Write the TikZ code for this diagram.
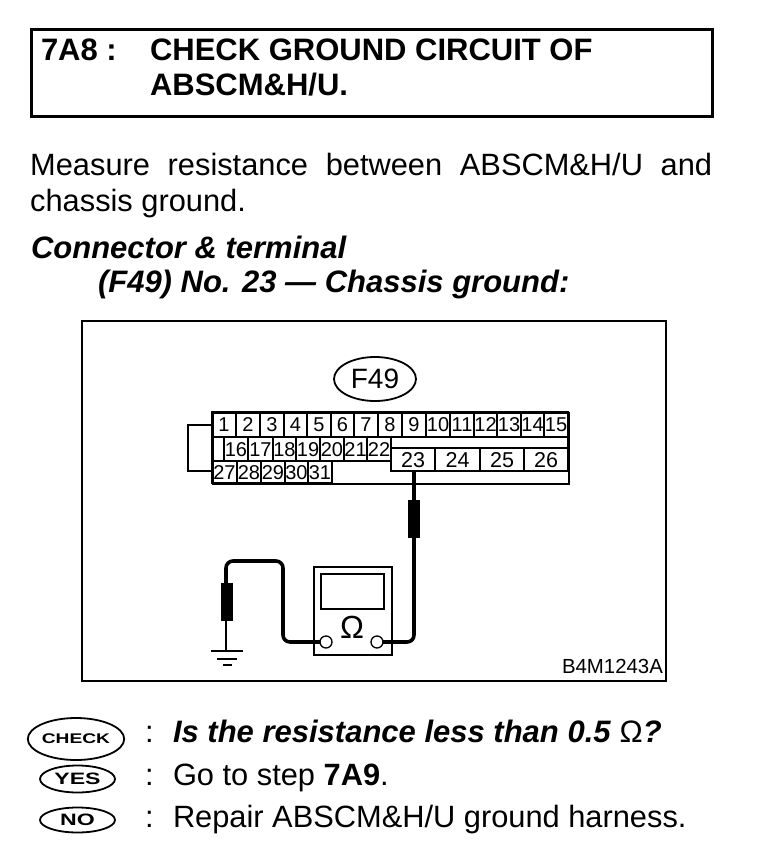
\documentclass[tikz,border=0pt]{standalone}
\usepackage{fontspec}
\setmainfont{Liberation Sans}
\usetikzlibrary{shapes.geometric}
\tikzset{
  x=1pt,y=-1pt,
  txt/.style={anchor=base west,inner sep=0pt,outer sep=0pt,font=\fontsize{30.8}{36}\selectfont},
  head/.style={txt,font=\fontsize{31}{36}\selectfont\bfseries},
  sub/.style={txt,font=\fontsize{31}{36}\selectfont\bfseries\itshape},
  cellbox/.style={draw,line width=1.3pt,anchor=north west,inner sep=0pt,outer sep=0pt,text height=14pt,text depth=0pt,font=\fontsize{20}{20}\selectfont},
  bigcell/.style={cellbox,text height=15.4pt,font=\fontsize{21.5}{22}\selectfont},
  tag/.style={draw,ellipse,line width=1.8pt,inner sep=0pt,outer sep=0pt},
  wire/.style={line width=3.6pt,rounded corners=7pt},
  plug/.style={fill=black,draw=none,inner sep=0pt,outer sep=0pt,minimum width=12pt},
  term/.style={draw,circle,line width=1.3pt,minimum size=12pt,inner sep=0pt,outer sep=0pt,fill=white},
}
\newcommand{\cellat}[6]{\node[cellbox,minimum width=#4pt,minimum height=#5pt] (#6) at (#2,#3) {#1};}
\newcommand{\bigcellat}[5]{\node[bigcell,minimum width=#4pt,minimum height=23pt] (#5) at (#2,#3) {#1};}
\begin{document}
\begin{tikzpicture}
\useasboundingbox[fill=white] (0,0) rectangle (768,860);
% title
\node[draw,line width=3pt,minimum width=681pt,minimum height=87pt,anchor=north west,inner sep=0pt] (title) at (30,28) {};
\node[head] (t1) at (41,60) {7A8 :};
\node[head] (t2) at (150,60) {CHECK GROUND CIRCUIT OF};
\node[head] (t3) at (150,95) {ABSCM\&H/U.};
% body
\node[anchor=north west,inner sep=0pt,text width=682pt,align=justify,font=\fontsize{30.8}{36}\selectfont] (body) at (30,153)
  {Measure resistance between ABSCM\&H/U and\linebreak chassis ground.};
\node[sub] (s1) at (31,258) {Connector \& terminal};
\node[sub] (s2) at (98,292) {(F49) No. 23 — Chassis ground:};
% frame
\node[draw,line width=2pt,minimum width=584pt,minimum height=360pt,anchor=north west,inner sep=0pt] (frame) at (81,320) {};
\node[tag,minimum width=82pt,minimum height=44pt,font=\fontsize{28}{30}\selectfont] (f49) at (375,379) {F49};
% row 1
\cellat{1}{212}{412}{24}{25}{c1}
\cellat{2}{236}{412}{24}{25}{c2}
\cellat{3}{260}{412}{24}{25}{c3}
\cellat{4}{284}{412}{23}{25}{c4}
\cellat{5}{307}{412}{24}{25}{c5}
\cellat{6}{331}{412}{23}{25}{c6}
\cellat{7}{354}{412}{24}{25}{c7}
\cellat{8}{378}{412}{24}{25}{c8}
\cellat{9}{402}{412}{24}{25}{c9}
\cellat{10}{426}{412}{24}{25}{c10}
\cellat{11}{450}{412}{24}{25}{c11}
\cellat{12}{474}{412}{23}{25}{c12}
\cellat{13}{497}{412}{24}{25}{c13}
\cellat{14}{521}{412}{23}{25}{c14}
\cellat{15}{544}{412}{24}{25}{c15}
% row 2
\cellat{}{212}{437}{12}{24}{c0}
\cellat{16}{224}{437}{24}{24}{c16}
\cellat{17}{248}{437}{25}{24}{c17}
\cellat{18}{273}{437}{23}{24}{c18}
\cellat{19}{296}{437}{24}{24}{c19}
\cellat{20}{320}{437}{24}{24}{c20}
\cellat{21}{344}{437}{23}{24}{c21}
\cellat{22}{367}{437}{24}{24}{c22}
% row 3
\cellat{27}{212}{461}{25}{22}{c27}
\cellat{28}{237}{461}{24}{22}{c28}
\cellat{29}{261}{461}{24}{22}{c29}
\cellat{30}{285}{461}{23}{22}{c30}
\cellat{31}{308}{461}{24}{22}{c31}
% wide strip and big terminals
\node[cellbox,minimum width=177pt,minimum height=11pt,text height=0pt] (strip) at (391,437) {};
\bigcellat{23}{391}{448}{44}{c23}
\bigcellat{24}{435}{448}{45}{c24}
\bigcellat{25}{480}{448}{44}{c25}
\bigcellat{26}{524}{448}{44}{c26}
% connector outline
\node[draw,line width=2.2pt,minimum width=356pt,minimum height=71pt,anchor=north west,inner sep=0pt] (conn) at (212,412) {};
% loop
\coordinate (la) at (212,425);
\coordinate (lb) at (212,471);
\draw[line width=1.6pt] (la) -- (188,425) -- (188,471) -- (lb);
% meter
\node[draw,line width=1.6pt,minimum width=78pt,minimum height=88pt,anchor=north west,inner sep=0pt] (meter) at (313,566) {};
\node[draw,line width=1.6pt,minimum width=63pt,minimum height=35pt,anchor=north west,inner sep=0pt] (screen) at (320,573) {};
\node[inner sep=0pt,font=\fontsize{32}{34}\selectfont] (ohm) at (352,627) {Ω};
\node[term] (tl) at (326,642) {};
\node[term] (tr) at (377,642) {};
% ground
\coordinate (gnd) at (226,652);
\draw[line width=2pt] (211,651) -- (243,651);
\draw[line width=2pt] (217,659) -- (237,659);
\draw[line width=2pt] (223,665) -- (232,665);
% wires
\coordinate (w1) at (414,471);
\draw[wire] (w1) -- (414,642) -- (tr.east);
\draw[wire] (tl.west) -- (283,642) -- (283,561) -- (226,561) -- (226,600);
\draw[line width=2.6pt] (226,600) -- (gnd);
\node[plug,minimum height=38pt,anchor=north] (p1) at (414,500) {};
\node[plug,minimum height=38pt,anchor=north] (p2) at (227,583) {};
\node[txt,font=\fontsize{20.4}{22}\selectfont] (code) at (562,673) {B4M1243A};
% footer
\node[tag,minimum width=92pt,minimum height=42pt,font=\fontsize{14}{16}\selectfont\bfseries] (chk) at (76,739) {\scalebox{1.37}[1]{CHECK}};
\node[tag,minimum width=75pt,minimum height=27pt,font=\fontsize{16.5}{18}\selectfont\bfseries] (yes) at (77.5,779) {\scalebox{1.4}[1]{YES}};
\node[tag,minimum width=75pt,minimum height=25pt,font=\fontsize{16.5}{18}\selectfont\bfseries] (no) at (77.5,820) {\scalebox{1.4}[1]{NO}};
\node[txt] (cc) at (145,742) {:};
\node[txt] (cy) at (145,785) {:};
\node[txt] (cn) at (145,827) {:};
\node[txt,font=\fontsize{31}{36}\selectfont\bfseries\itshape] (q) at (173,742) {Is the resistance less than 0.5 \textnormal{Ω}?};
\node[txt] (go) at (173,785) {Go to step \textbf{7A9}.};
\node[txt] (rep) at (173,827) {Repair ABSCM\&H/U ground harness.};
\end{tikzpicture}
\end{document}
